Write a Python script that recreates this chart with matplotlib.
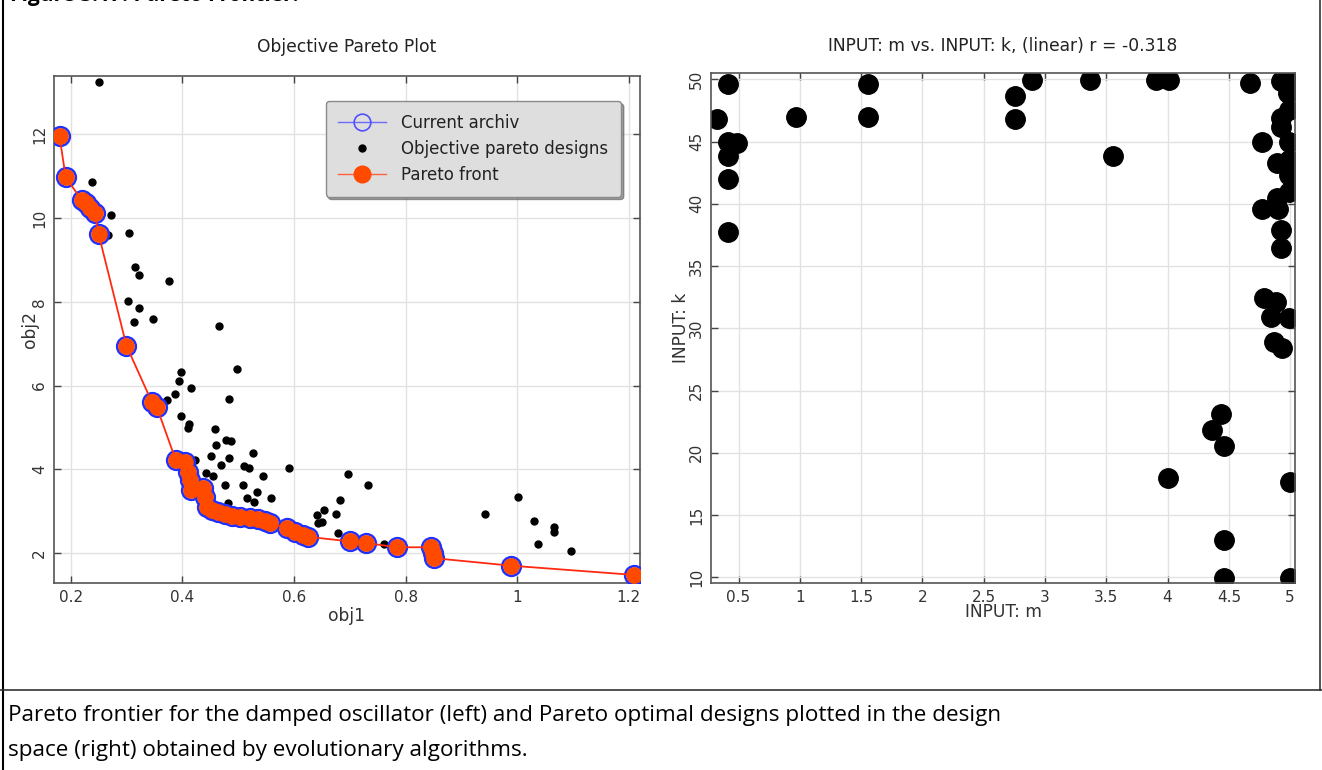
#------------------------------------------------------------------------------
# Pareto frontier of the damped oscillator (objective space) and the
# pareto optimal designs in the design space (m, k).
#------------------------------------------------------------------------------

import matplotlib as mpl
mpl.use('Agg')
import matplotlib.pyplot as plt
import matplotlib.ticker as ticker
from matplotlib.lines import Line2D

# Pareto front / current archive (obj1, obj2)
front_obj1 = [0.180, 0.191, 0.220, 0.228, 0.235, 0.243, 0.250, 0.300, 0.345,
              0.354, 0.388, 0.404, 0.410, 0.413, 0.415, 0.437, 0.440, 0.444,
              0.453, 0.464, 0.476, 0.489, 0.503, 0.521, 0.535, 0.548, 0.557,
              0.587, 0.602, 0.616, 0.625, 0.700, 0.730, 0.785, 0.846, 0.849,
              0.851, 0.989, 1.209]
front_obj2 = [11.95, 10.98, 10.42, 10.35, 10.25, 10.12, 9.62, 6.95, 5.62,
              5.50, 4.23, 4.18, 3.94, 3.75, 3.51, 3.56, 3.34, 3.10,
              3.03, 2.99, 2.94, 2.89, 2.87, 2.84, 2.82, 2.77, 2.72,
              2.60, 2.51, 2.44, 2.39, 2.28, 2.24, 2.14, 2.14, 2.00,
              1.88, 1.70, 1.48]

# All evaluated designs (objective pareto designs)
design_obj1 = [0.250, 0.238, 0.273, 0.267, 0.305, 0.316, 0.323, 0.376, 0.302,
               0.323, 0.314, 0.347, 0.465, 0.397, 0.394, 0.416, 0.498, 0.387,
               0.372, 0.483, 0.397, 0.412, 0.411, 0.458, 0.479, 0.488, 0.460,
               0.527, 0.451, 0.483, 0.422, 0.469, 0.511, 0.520, 0.592, 0.443,
               0.545, 0.455, 0.477, 0.508, 0.533, 0.516, 0.559, 0.529, 0.482,
               0.641, 0.643, 0.650, 0.653, 0.696, 0.683, 0.675, 0.732, 0.679,
               0.762, 0.943, 1.001, 1.031, 1.066, 1.066, 1.038, 1.097]
design_obj2 = [13.26, 10.85, 10.07, 9.60, 9.65, 8.83, 8.64, 8.50, 8.02,
               7.86, 7.51, 7.58, 7.42, 6.32, 6.11, 5.95, 6.40, 5.79,
               5.66, 5.68, 5.28, 5.09, 4.98, 4.96, 4.70, 4.68, 4.58,
               4.39, 4.33, 4.26, 4.23, 4.11, 4.08, 4.03, 4.03, 3.92,
               3.85, 3.83, 3.63, 3.63, 3.45, 3.31, 3.31, 3.21, 3.19,
               2.91, 2.72, 2.75, 3.04, 3.88, 3.26, 2.94, 3.62, 2.48,
               2.22, 2.93, 3.33, 2.77, 2.62, 2.50, 2.22, 2.04]

# Pareto optimal designs in the design space
input_m = [0.413, 0.324, 0.413, 0.487, 0.413, 0.413, 0.413, 0.971, 1.553,
           1.553, 2.895, 2.759, 2.759, 3.365, 3.902, 4.010, 3.556, 4.671,
           4.922, 4.990, 4.982, 4.990, 4.922, 4.922, 4.773, 4.990, 4.889,
           4.990, 4.990, 4.990, 4.889, 4.773, 4.900, 4.922, 4.922, 4.786,
           4.881, 4.848, 4.990, 4.867, 4.936, 4.438, 4.364, 4.459, 4.005,
           4.996, 4.459, 4.459, 4.996]
input_k = [49.62, 46.79, 44.99, 44.91, 43.84, 41.97, 37.76, 47.00, 49.62,
           47.00, 49.94, 48.68, 46.79, 49.94, 49.94, 49.94, 43.84, 49.68,
           49.88, 49.88, 48.87, 47.53, 46.87, 46.20, 44.94, 44.94, 43.25,
           43.52, 42.31, 40.97, 40.44, 39.58, 39.58, 37.90, 36.47, 32.41,
           32.14, 30.93, 30.85, 28.92, 28.44, 23.12, 21.83, 20.57, 18.00,
           17.68, 13.00, 9.92, 9.92]

left_xticks = [0.2, 0.4, 0.6, 0.8, 1.0, 1.2]
left_yticks = [2, 4, 6, 8, 10, 12]
right_xticks = [0.5, 1, 1.5, 2, 2.5, 3, 3.5, 4, 4.5, 5]
right_yticks = [10, 15, 20, 25, 30, 35, 40, 45, 50]

FRONT_ORANGE = '#ff4a00'
FRONT_LINE = '#ff2a10'
RING_BLUE = '#2030ff'
SPINE = '#555555'
LABEL_SIZE = 12.3

#------------------------------------------------------------------------------
def style_axes(ax, xticks, yticks) -> None:
    ax.set_xticks(xticks)
    ax.set_yticks(yticks)
    ax.xaxis.set_major_formatter(ticker.FormatStrFormatter('%g'))
    ax.yaxis.set_major_formatter(ticker.FormatStrFormatter('%g'))
    ax.tick_params(direction='in', length=5, width=1.0, color='#444444',
                   labelsize=11, top=True, right=True, pad=5,
                   labelcolor='#333333')
    for lbl in ax.get_yticklabels():
        lbl.set_rotation(90)
        lbl.set_va('center')
    ax.grid(True, color='#e2e2e2', linewidth=1.0)
    ax.set_axisbelow(True)
    for sp in ax.spines.values():
        sp.set_color(SPINE)
        sp.set_linewidth(1.2)

#------------------------------------------------------------------------------
def main() -> None:
    plt.rcParams['font.family'] = ['DejaVu Sans']
    fig = plt.figure(figsize=(13.22, 7.70), dpi=100)

    # Left: objective pareto plot
    ax1 = fig.add_axes([0.0408, 0.2425, 0.4433, 0.6592])
    ax1.plot(design_obj1, design_obj2, 'o', ms=5, color='black', mec='black',
             zorder=2)
    ax1.plot(front_obj1, front_obj2, 'o', ms=13.5, mfc='none', mec=RING_BLUE,
             mew=1.8, zorder=3)
    ax1.plot(front_obj1, front_obj2, '-', color=FRONT_LINE, lw=1.3, zorder=4)
    ax1.plot(front_obj1, front_obj2, 'o', ms=11, color=FRONT_ORANGE,
             mec=FRONT_ORANGE, zorder=5)
    ax1.set_xlim(0.17, 1.22)
    ax1.set_ylim(1.28, 13.4)
    style_axes(ax1, left_xticks, left_yticks)
    ax1.set_title('Objective Pareto Plot', fontsize=LABEL_SIZE,
                  color='#222222', pad=17)
    ax1.set_xlabel('obj1', fontsize=LABEL_SIZE, color='#333333')
    ax1.set_ylabel('obj2', fontsize=LABEL_SIZE, color='#333333')
    ax1.xaxis.set_label_coords(0.5, -0.046)
    ax1.yaxis.set_label_coords(-0.025, 0.5)

    handles = [
        Line2D([], [], color='#6a6aff', lw=1.0, marker='o', ms=12,
               mfc='none', mec='#5050ff', mew=1.2),
        Line2D([], [], ls='none', marker='o', ms=5, color='black'),
        Line2D([], [], color='#ff6040', lw=1.0, marker='o', ms=12,
               mfc=FRONT_ORANGE, mec=FRONT_ORANGE),
    ]
    labels = ['Current archiv', 'Objective pareto designs', 'Pareto front']
    leg = ax1.legend(handles, labels, loc='upper right',
                     bbox_to_anchor=(0.9676, 0.950), fontsize=12,
                     handlelength=2.9, handletextpad=0.9, labelspacing=0.5,
                     borderpad=0.75, borderaxespad=0.0, fancybox=True,
                     shadow=True, framealpha=1.0, facecolor='#dedede',
                     edgecolor='#8a8a8a')
    for t in leg.get_texts():
        t.set_color('#222222')

    # Right: design space m vs k
    ax2 = fig.add_axes([0.5378, 0.2425, 0.4418, 0.6623])
    ax2.plot(input_m, input_k, 'o', ms=14, color='black', mec='black')
    ax2.set_xlim(0.275, 5.04)
    ax2.set_ylim(9.52, 50.48)
    style_axes(ax2, right_xticks, right_yticks)
    ax2.set_title('INPUT: m vs. INPUT: k, (linear) r = -0.318',
                  fontsize=LABEL_SIZE, color='#222222', pad=16)
    ax2.set_xlabel('INPUT: m', fontsize=LABEL_SIZE, color='#333333')
    ax2.set_ylabel('INPUT: k', fontsize=LABEL_SIZE, color='#333333')
    ax2.xaxis.set_label_coords(0.5, -0.039)
    ax2.yaxis.set_label_coords(-0.036, 0.5)

    # Page frame around the figure and caption
    fig.add_artist(Line2D([2.5 / 1322, 2.5 / 1322], [0, 1], color='black',
                          lw=1.5, transform=fig.transFigure))
    fig.add_artist(Line2D([1319.5 / 1322, 1319.5 / 1322], [1 - 690 / 770, 1],
                          color='#333333', lw=1.2, transform=fig.transFigure))
    fig.add_artist(Line2D([0, 1], [1 - 690 / 770, 1 - 690 / 770],
                          color='#333333', lw=1.2, transform=fig.transFigure))

    fig.text(10 / 1322, 1 + 4 / 770, 'Figure 3.17: Pareto Frontier.',
             fontsize=15, fontweight='bold', family='Open Sans',
             ha='left', va='center')

    caption = ('Pareto frontier for the damped oscillator (left) and Pareto '
               'optimal designs plotted in the design\n'
               'space (right) obtained by evolutionary algorithms.')
    fig.text(8 / 1322, 1 - 705 / 770, caption, fontsize=16.2,
             family='Open Sans', ha='left', va='top', linespacing=1.85)

    fig.savefig('out.png', dpi=100)

#------------------------------------------------------------------------------
if __name__ == '__main__':
    main()
